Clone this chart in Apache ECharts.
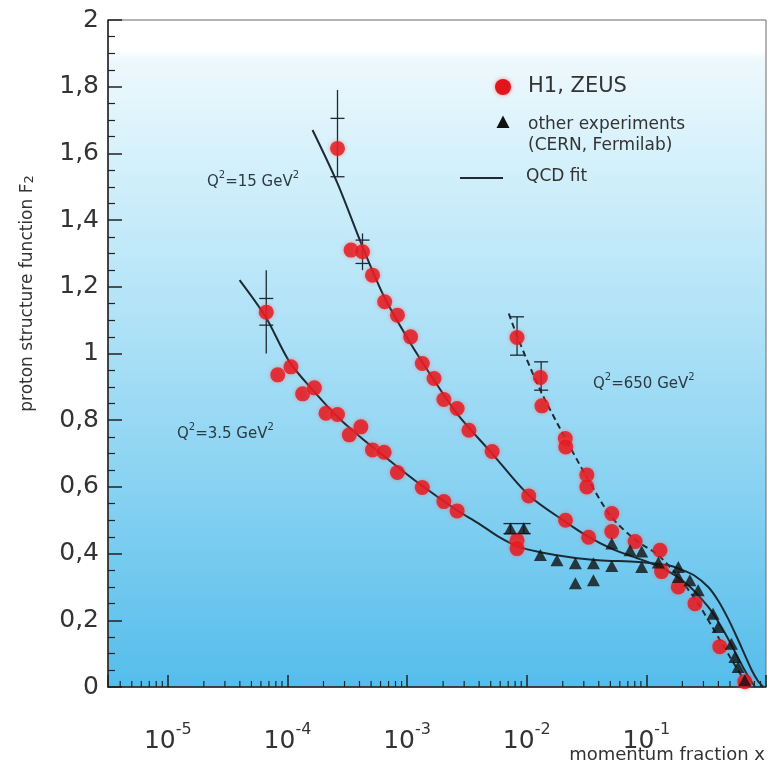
<!DOCTYPE html>
<html>
<head>
<meta charset="utf-8">
<script src="https://cdn.jsdelivr.net/npm/echarts@6/dist/echarts.min.js"></script>
<style>
  html, body { margin: 0; padding: 0; background: #fff; }
  #chart { width: 769px; height: 770px; }
</style>
</head>
<body>
<div id="chart"></div>
<script>
// H1, ZEUS points, Q^2 = 3.5 GeV^2
var x35 = [6.65e-5, 8.30e-5, 1.07e-4, 1.34e-4, 1.68e-4, 2.10e-4, 2.62e-4, 3.29e-4, 4.11e-4, 5.14e-4, 6.43e-4, 8.30e-4, 1.34e-3, 2.03e-3, 2.62e-3, 8.30e-3, 8.30e-3];
var f35 = [1.124, 0.936, 0.960, 0.879, 0.897, 0.821, 0.817, 0.756, 0.780, 0.711, 0.704, 0.643, 0.598, 0.556, 0.528, 0.44, 0.415];
// Q^2 = 15 GeV^2
var x15 = [2.62e-4, 3.40e-4, 4.24e-4, 5.14e-4, 6.50e-4, 8.30e-4, 1.07e-3, 1.34e-3, 1.68e-3, 2.03e-3, 2.62e-3, 3.29e-3, 5.14e-3, 1.04e-2, 2.11e-2, 3.29e-2];
var f15 = [1.615, 1.31, 1.305, 1.235, 1.155, 1.115, 1.05, 0.97, 0.925, 0.862, 0.835, 0.77, 0.706, 0.573, 0.50, 0.449];
// Q^2 = 650 GeV^2
var x650 = [8.30e-3, 1.30e-2, 1.34e-2, 2.10e-2, 2.12e-2, 3.18e-2, 3.18e-2, 5.14e-2, 5.14e-2, 8.05e-2, 0.130, 0.134, 0.185, 0.255, 0.411, 0.665];
var f650 = [1.048, 0.928, 0.843, 0.745, 0.72, 0.636, 0.60, 0.52, 0.466, 0.436, 0.41, 0.346, 0.30, 0.25, 0.121, 0.016];
// other experiments (CERN, Fermilab)
var xOther = [7.31e-3, 9.44e-3, 1.30e-2, 1.79e-2, 2.55e-2, 3.61e-2, 2.55e-2, 3.61e-2, 5.14e-2, 5.14e-2, 7.31e-2, 9.14e-2, 9.14e-2, 0.126, 0.185, 0.185, 0.231, 0.271, 0.361, 0.398, 0.514, 0.55, 0.585, 0.665];
var fOther = [0.475, 0.476, 0.396, 0.38, 0.371, 0.371, 0.311, 0.32, 0.363, 0.43, 0.41, 0.406, 0.36, 0.373, 0.36, 0.33, 0.32, 0.29, 0.22, 0.18, 0.13, 0.09, 0.06, 0.02];

// QCD fit curves
var fitX35 = [3.98e-5, 6.56e-5, 1.04e-4, 1.68e-4, 2.71e-4, 4.38e-4, 7.08e-4, 1.26e-3, 2.61e-3, 3.98e-3, 5.85e-3, 8.57e-3, 1.26e-2, 2.24e-2, 3.98e-2, 8.57e-2, 0.152, 0.196, 0.25, 0.329, 0.40, 0.482, 0.57, 0.668, 0.76, 0.857, 0.95];
var fitF35 = [1.22, 1.11, 0.975, 0.885, 0.805, 0.74, 0.68, 0.61, 0.53, 0.49, 0.45, 0.42, 0.405, 0.39, 0.38, 0.375, 0.365, 0.352, 0.335, 0.30, 0.258, 0.205, 0.15, 0.095, 0.05, 0.018, 0];
var fitX15 = [1.62e-4, 2.62e-4, 4.24e-4, 6.43e-4, 1.03e-3, 1.68e-3, 2.61e-3, 5.14e-3, 1.04e-2, 2.11e-2, 3.29e-2, 5.1e-2, 8.57e-2, 0.14, 0.224, 0.329, 0.40, 0.482, 0.57, 0.646, 0.73, 0.81];
var fitF15 = [1.67, 1.51, 1.32, 1.17, 1.04, 0.92, 0.82, 0.70, 0.575, 0.495, 0.45, 0.415, 0.385, 0.355, 0.305, 0.24, 0.195, 0.145, 0.095, 0.058, 0.025, 0];
var fitX650 = [7.08e-3, 8.57e-3, 1.30e-2, 2.07e-2, 3.29e-2, 5.1e-2, 8.2e-2, 0.126, 0.185, 0.271, 0.398, 0.50, 0.585, 0.708];
var fitF650 = [1.12, 1.04, 0.89, 0.75, 0.62, 0.51, 0.44, 0.395, 0.33, 0.25, 0.15, 0.09, 0.05, 0];

// error bars: x, full range, inner caps
var errX = [6.65e-5, 2.62e-4, 4.24e-4, 8.30e-3, 1.32e-2, 7.31e-3, 9.44e-3];
var errLo = [1.0, 1.53, 1.25, 0.995, 0.88, 0.46, 0.46];
var errHi = [1.25, 1.79, 1.36, 1.11, 0.975, 0.49, 0.49];
var capLo = [1.085, 1.53, 1.27, 0.995, 0.89, 0.46, 0.46];
var capHi = [1.165, 1.705, 1.34, 1.11, 0.975, 0.49, 0.49];

var FONT = 'DejaVu Sans';
var RED = '#e3141b';
var INK = '#1c2a33';

function zip(xs, ys) {
  return xs.map(function (x, i) { return [x, ys[i]]; });
}

// log minor ticks (2..9 per decade)
var minorTicks = [];
for (var d = -6; d < 0; d++) {
  for (var k = 2; k <= 9; k++) {
    var v = k * Math.pow(10, d);
    if (v > Math.pow(10, -5.5) && v < 1) minorTicks.push([v, 0]);
  }
}

var errData = errX.map(function (x, i) { return [x, errLo[i], errHi[i], capLo[i], capHi[i]]; });

var chart = echarts.init(document.getElementById('chart'), null, { renderer: 'canvas' });

function dots(name, xs, ys) {
  return {
    name: name,
    type: 'scatter',
    data: zip(xs, ys),
    symbol: 'circle',
    symbolSize: 15,
    itemStyle: { color: RED, shadowBlur: 4, shadowColor: 'rgba(255,90,90,0.7)' },
    z: 5
  };
}

function fit(xs, ys, dashed) {
  return {
    name: 'QCD fit',
    type: 'line',
    data: zip(xs, ys),
    showSymbol: false,
    symbol: 'none',
    smooth: 0.3,
    lineStyle: { color: INK, width: 2, type: dashed ? [6, 4] : 'solid' },
    z: 3
  };
}

var supRich = {
  n: { fontFamily: FONT, fontSize: 15, fill: '#2c3a42', lineHeight: 20, verticalAlign: 'bottom' },
  s: { fontFamily: FONT, fontSize: 10, fill: '#2c3a42', lineHeight: 10, verticalAlign: 'top' }
};

var option = {
  animation: false,
  backgroundColor: '#ffffff',
  grid: {
    left: 108, top: 20, right: 3, bottom: 83,
    containLabel: false,
    outerBoundsMode: 'none',
    show: true,
    borderColor: '#6a6a6a',
    borderWidth: 1,
    backgroundColor: new echarts.graphic.LinearGradient(0, 0, 0, 1, [
      { offset: 0, color: '#ffffff' },
      { offset: 0.045, color: '#ffffff' },
      { offset: 0.06, color: '#eef8fd' },
      { offset: 0.2, color: '#d6f1fb' },
      { offset: 0.45, color: '#b0e2f7' },
      { offset: 0.7, color: '#88d2f2' },
      { offset: 1, color: '#55bdeb' }
    ])
  },
  xAxis: {
    type: 'log',
    logBase: 10,
    min: Math.pow(10, -5.5),
    max: 1,
    axisLine: { show: true, lineStyle: { color: '#222', width: 1.5 } },
    axisTick: { show: true, inside: true, length: 12, lineStyle: { color: '#222', width: 1.5 } },
    splitLine: { show: false },
    axisLabel: {
      margin: 35,
      formatter: function (v) {
        var lg = Math.log10(v);
        var e = Math.round(lg);
        if (Math.abs(lg - e) > 1e-6 || e >= 0) return '';
        return '{b|10}{s|' + e + '}';
      },
      rich: {
        b: { fontFamily: FONT, fontSize: 25, color: '#333', lineHeight: 32, verticalAlign: 'bottom' },
        s: { fontFamily: FONT, fontSize: 16, color: '#333', lineHeight: 16, verticalAlign: 'top' }
      }
    }
  },
  yAxis: {
    type: 'value',
    min: 0,
    max: 2,
    interval: 0.2,
    name: 'proton structure function F{sub|2}',
    nameLocation: 'middle',
    nameGap: 72,
    nameTextStyle: {
      fontFamily: FONT, fontSize: 17, color: '#333',
      padding: [0, 0, 0, 120],
      rich: { sub: { fontFamily: FONT, fontSize: 13, color: '#333', verticalAlign: 'bottom', lineHeight: 14 } }
    },
    axisLine: { show: true, lineStyle: { color: '#222', width: 1.5 } },
    axisTick: { show: true, inside: true, length: 14, lineStyle: { color: '#222', width: 1.5 } },
    minorTick: { show: true, splitNumber: 4, length: 7, lineStyle: { color: '#222', width: 1.2 } },
    splitLine: { show: false },
    axisLabel: {
      margin: 9,
      fontFamily: FONT, fontSize: 25, color: '#333',
      formatter: function (v) {
        return String(Math.round(v * 10) / 10).replace('.', ',');
      }
    }
  },
  graphic: [
    // x axis title
    { type: 'text', x: 765, y: 755, style: { text: 'momentum fraction x', font: '18px "DejaVu Sans"', fill: '#333', align: 'right', verticalAlign: 'middle' } },
    // legend
    { type: 'circle', shape: { cx: 503, cy: 87, r: 8 }, style: { fill: RED, shadowBlur: 4, shadowColor: 'rgba(255,90,90,0.7)' } },
    { type: 'text', x: 528, y: 87, style: { text: 'H1, ZEUS', font: '21px "DejaVu Sans"', fill: '#333', verticalAlign: 'middle' } },
    { type: 'polygon', shape: { points: [[503, 115.5], [496.5, 128], [509.5, 128]] }, style: { fill: '#111' } },
    { type: 'text', x: 528, y: 125, style: { text: 'other experiments', font: '17px "DejaVu Sans"', fill: '#333', verticalAlign: 'middle' } },
    { type: 'text', x: 528, y: 146, style: { text: '(CERN, Fermilab)', font: '17px "DejaVu Sans"', fill: '#333', verticalAlign: 'middle' } },
    { type: 'line', shape: { x1: 460, y1: 178, x2: 503, y2: 178 }, style: { stroke: INK, lineWidth: 2 } },
    { type: 'text', x: 526, y: 177, style: { text: 'QCD fit', font: '17px "DejaVu Sans"', fill: '#333', verticalAlign: 'middle' } },
    // curve labels
    { type: 'text', x: 207, y: 180, style: { text: '{n|Q}{s|2}{n|=15 GeV}{s|2}', verticalAlign: 'middle', rich: supRich } },
    { type: 'text', x: 177, y: 432, style: { text: '{n|Q}{s|2}{n|=3.5 GeV}{s|2}', verticalAlign: 'middle', rich: supRich } },
    { type: 'text', x: 593, y: 382, style: { text: '{n|Q}{s|2}{n|=650 GeV}{s|2}', verticalAlign: 'middle', rich: supRich } }
  ],
  series: [
    {
      type: 'custom',
      name: 'minor ticks',
      data: minorTicks,
      clip: false,
      silent: true,
      renderItem: function (params, api) {
        var p = api.coord([api.value(0), 0]);
        return {
          type: 'line',
          shape: { x1: p[0], y1: p[1], x2: p[0], y2: p[1] - 6 },
          style: { stroke: '#222', lineWidth: 1.2 }
        };
      },
      z: 2
    },
    fit(fitX35, fitF35, false),
    fit(fitX15, fitF15, false),
    fit(fitX650, fitF650, true),
    {
      type: 'custom',
      name: 'errors',
      data: errData,
      silent: true,
      renderItem: function (params, api) {
        var x = api.value(0);
        var a = api.coord([x, api.value(1)]);
        var b = api.coord([x, api.value(2)]);
        var c1 = api.coord([x, api.value(3)]);
        var c2 = api.coord([x, api.value(4)]);
        var st = { stroke: INK, lineWidth: 1.3 };
        return {
          type: 'group',
          children: [
            { type: 'line', shape: { x1: a[0], y1: a[1], x2: b[0], y2: b[1] }, style: st },
            { type: 'line', shape: { x1: c1[0] - 7, y1: c1[1], x2: c1[0] + 7, y2: c1[1] }, style: st },
            { type: 'line', shape: { x1: c2[0] - 7, y1: c2[1], x2: c2[0] + 7, y2: c2[1] }, style: st }
          ]
        };
      },
      z: 4
    },
    dots('H1, ZEUS', x35, f35),
    dots('H1, ZEUS', x15, f15),
    dots('H1, ZEUS', x650, f650),
    {
      name: 'other experiments',
      type: 'scatter',
      data: zip(xOther, fOther),
      symbol: 'triangle',
      symbolSize: [13, 12],
      itemStyle: { color: '#111' },
      z: 6
    }
  ]
};

chart.setOption(option);
</script>
</body>
</html>
